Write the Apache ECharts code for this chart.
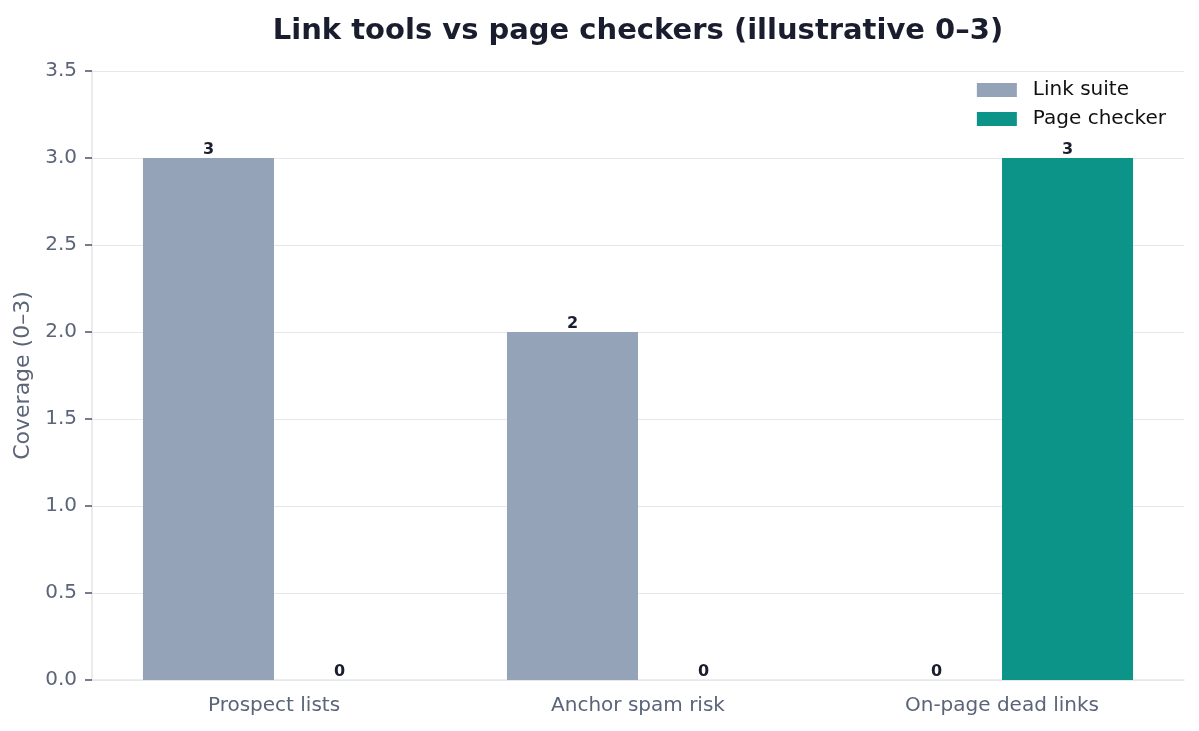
<!DOCTYPE html>
<html>
<head>
<meta charset="utf-8">
<script src="https://cdn.jsdelivr.net/npm/echarts@6/dist/echarts.min.js"></script>
<style>html,body{margin:0;padding:0;background:#fff;}#c{width:1199px;height:731px;}</style>
</head>
<body>
<div id="c"></div>
<script>
const categories = ["Prospect lists", "Anchor spam risk", "On-page dead links"];
const linkSuite = [3, 2, 0];
const pageChecker = [0, 0, 3];
const seriesNames = ["Link suite", "Page checker"];
const titleText = "Link tools vs page checkers (illustrative 0–3)";
const yAxisName = "Coverage (0–3)";

const chart = echarts.init(document.getElementById('c'), null, {renderer: 'canvas'});
const font = 'DejaVu Sans';
const labelCfg = {show: true, position: 'top', distance: 0, fontFamily: font, fontSize: 16, fontWeight: 'bold', color: '#1a1d2e'};
chart.setOption({
  animation: false,
  backgroundColor: '#ffffff',
  title: {
    text: titleText, left: 633, top: 12, textAlign: 'center',
    textStyle: {fontFamily: font, fontSize: 29, fontWeight: 'bold', color: '#1a1d2e'}
  },
  legend: {
    orient: 'vertical', right: 28, top: 75,
    itemWidth: 40, itemHeight: 14, itemGap: 9,
    icon: 'rect',
    textStyle: {fontFamily: font, fontSize: 20, lineHeight: 20, color: '#111111', padding: [0,0,0,11]},
    data: seriesNames
  },
  grid: {left: 92, right: 15, top: 71, bottom: 51, containLabel: false},
  xAxis: {
    type: 'category', data: categories,
    axisLine: {lineStyle: {color: '#e5e7eb', width: 1.6}},
    axisTick: {alignWithLabel: true, length: 7, lineStyle: {color: '#555c6e', width: 1.6}},
    axisLabel: {fontFamily: font, fontSize: 20, color: '#5b6478', margin: 16}
  },
  yAxis: {
    type: 'value', min: 0, max: 3.5, interval: 0.5,
    name: yAxisName, nameLocation: 'middle', nameGap: 53,
    nameTextStyle: {fontFamily: font, fontSize: 22, color: '#5b6478'},
    axisLine: {show: true, lineStyle: {color: '#e5e7eb', width: 1.6}},
    axisTick: {show: true, length: 7, lineStyle: {color: '#555c6e', width: 1.6}},
    axisLabel: {fontFamily: font, fontSize: 20, color: '#5b6478', margin: 15, formatter: v => v.toFixed(1)},
    splitLine: {lineStyle: {color: '#e5e7eb', width: 1.2}}
  },
  series: [
    {name: seriesNames[0], type: 'bar', data: linkSuite, barGap: '0%', barCategoryGap: '28%',
     itemStyle: {color: '#94a3b8'}, label: labelCfg},
    {name: seriesNames[1], type: 'bar', data: pageChecker, barGap: '0%', barCategoryGap: '28%',
     itemStyle: {color: '#0d9488'}, label: labelCfg}
  ]
});
</script>
</body>
</html>
